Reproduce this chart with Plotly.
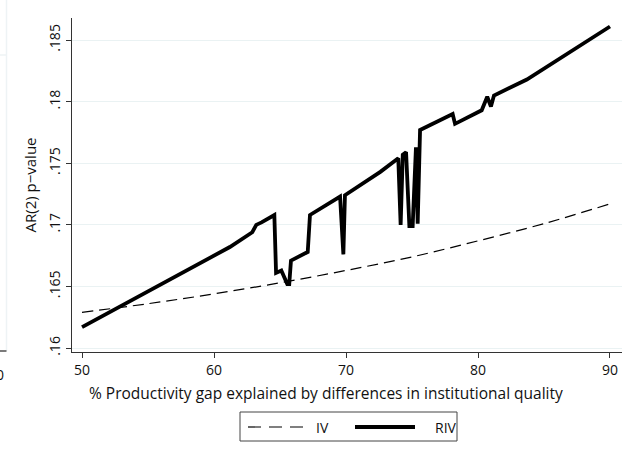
import plotly.graph_objects as go

# RIV series: AR(2) p-value against % productivity gap explained
riv_x = [50, 61.2, 62.9, 63.2, 63.6, 64.57, 64.7, 65.1, 65.55, 65.7, 65.83, 67.1, 67.27,
         69.55, 69.8, 69.92, 72.6, 73.96, 74.14, 74.3, 74.55, 74.8, 75.05, 75.3, 75.43,
         75.61, 78.08, 78.26, 80.28, 80.7, 80.98, 81.21, 83.7, 90]
riv_y = [0.1617, 0.1682, 0.1694, 0.1700, 0.1702, 0.1708, 0.1661, 0.1663, 0.1652, 0.1652,
         0.1671, 0.1678, 0.1708, 0.1723, 0.1676, 0.1724, 0.1743, 0.1754, 0.1700, 0.1757,
         0.1759, 0.1699, 0.1699, 0.1763, 0.1701, 0.1777, 0.1790, 0.1782, 0.1793, 0.1804,
         0.1796, 0.1805, 0.1818, 0.1861]

# IV series
iv_x = [50, 55, 60, 65, 70, 75, 80, 85, 90]
iv_y = [0.1629, 0.1636, 0.1644, 0.1653, 0.1663, 0.1674, 0.1687, 0.1701, 0.1717]

x_ticks = [50, 60, 70, 80, 90]
y_ticks = [0.16, 0.165, 0.17, 0.175, 0.18, 0.185]
y_tick_text = [".16", ".165", ".17", ".175", ".18", ".185"]

FONT = "Open Sans"
AXIS_COL = "#333333"
GRID_COL = "#eaf2f3"
FS = 14

fig = go.Figure()
fig.add_trace(go.Scatter(x=iv_x, y=iv_y, mode="lines", name="IV",
                         line=dict(color="black", width=1.2, dash="11px,6px", shape="spline")))
fig.add_trace(go.Scatter(x=riv_x, y=riv_y, mode="lines", name="RIV",
                         line=dict(color="black", width=3.8)))

fig.update_layout(
    width=639, height=459,
    margin=dict(l=72, r=17, t=18, b=107),
    paper_bgcolor="white", plot_bgcolor="white",
    showlegend=False,
    font=dict(family=FONT, size=FS, color="#111111"),
    xaxis=dict(range=[49.24, 90.91], tickvals=x_ticks, showgrid=False, zeroline=False,
               showline=True, linecolor=AXIS_COL, linewidth=1.3, ticks="outside",
               ticklen=5, tickcolor=AXIS_COL, tickfont=dict(size=FS)),
    yaxis=dict(range=[0.15968, 0.18679], tickvals=y_ticks, ticktext=y_tick_text,
               tickangle=-90, showgrid=True, gridcolor=GRID_COL, gridwidth=1.2,
               zeroline=False, showline=True, linecolor=AXIS_COL, linewidth=1.3,
               ticks="outside", ticklen=5, tickcolor=AXIS_COL, tickfont=dict(size=FS),
               title=dict(text="AR(2) p\u2212value", standoff=5, font=dict(size=15))),
)

# Paper-coordinate helpers for items placed outside the plot area
def px(xp):
    return (xp - 72) / 550.0

def py(yp):
    return (352 - yp) / 334.0

shapes = [
    # legend frame and keys
    dict(type="rect", xref="paper", yref="paper", x0=px(240), x1=px(457), y0=py(441), y1=py(412),
         line=dict(color="#444444", width=1), fillcolor="white", layer="above"),
    dict(type="line", xref="paper", yref="paper", x0=px(248), x1=px(304), y0=py(427), y1=py(427),
         line=dict(color="black", width=1.2, dash="13px,8px")),
    dict(type="line", xref="paper", yref="paper", x0=px(355), x1=px(415), y0=py(427), y1=py(427),
         line=dict(color="black", width=3.8)),
    # neighbouring panel edge at the far left
    dict(type="line", xref="paper", yref="paper", x0=px(6.5), x1=px(6.5), y0=py(351), y1=py(0),
         line=dict(color="#eef3f5", width=1.5)),
    dict(type="line", xref="paper", yref="paper", x0=px(0), x1=px(6.5), y0=py(55), y1=py(55),
         line=dict(color="#eef3f5", width=1.5)),
    dict(type="line", xref="paper", yref="paper", x0=px(0), x1=px(6.5), y0=py(351), y1=py(351),
         line=dict(color=AXIS_COL, width=1.3)),
]
fig.update_layout(shapes=shapes)

fig.add_annotation(xref="paper", yref="paper", x=px(326), y=py(393),
                   text="% Productivity gap explained by differences in institutional quality",
                   showarrow=False, xanchor="center", yanchor="middle", font=dict(size=15.5))
fig.add_annotation(xref="paper", yref="paper", x=px(314), y=py(427), text="IV",
                   showarrow=False, xanchor="left", yanchor="middle", font=dict(size=FS))
fig.add_annotation(xref="paper", yref="paper", x=px(433), y=py(427), text="RIV",
                   showarrow=False, xanchor="left", yanchor="middle", font=dict(size=FS))
fig.add_annotation(xref="paper", yref="paper", x=px(0), y=py(374), text="0",
                   showarrow=False, xanchor="center", yanchor="middle", font=dict(size=FS))

fig.write_html("out.html")
